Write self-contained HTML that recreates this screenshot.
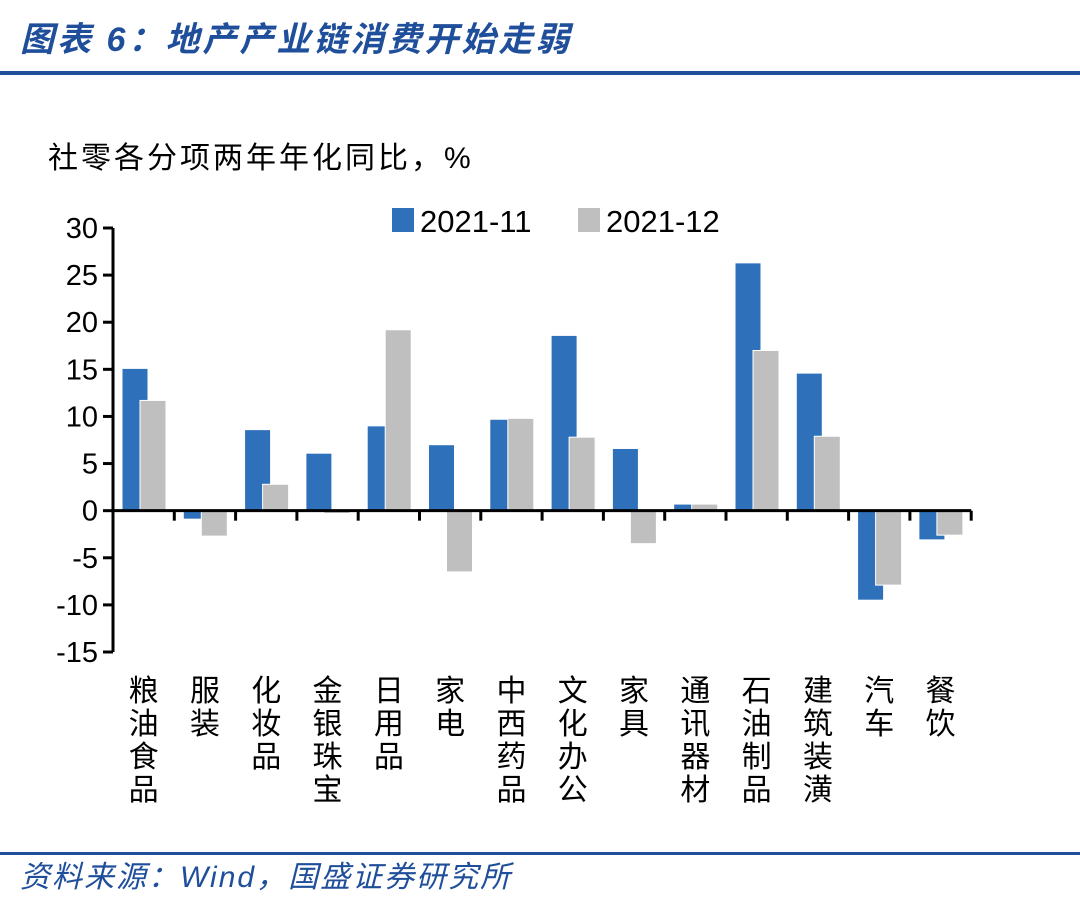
<!DOCTYPE html>
<html><head><meta charset="utf-8"><style>
body{margin:0;background:#fff;width:1080px;height:900px;overflow:hidden;font-family:"Liberation Sans","Noto Sans CJK SC",sans-serif}
</style></head><body>
<svg width="1080" height="900">
<text x="20" y="51" font-size="34" font-weight="bold" font-style="italic" fill="#1f4e9a" letter-spacing="3" font-family="Liberation Sans,Noto Sans CJK SC,sans-serif">图表 6：地产产业链消费开始走弱</text>
<rect x="0" y="71" width="1080" height="4" fill="#1f4e9a"/>
<text x="48" y="168" font-size="30" fill="#000" letter-spacing="3">社零各分项两年年化同比，%</text>
<g>
<rect x="392" y="208" width="22" height="24" fill="#2e70ba"/>
<text x="420" y="232" font-size="31">2021-11</text>
<rect x="578" y="208" width="22" height="24" fill="#bfbfbf"/>
<text x="606" y="232" font-size="31">2021-12</text>
</g>
<g id="plot"></g>
<rect x="0" y="852" width="1080" height="3" fill="#1f4e9a"/>
<text x="20" y="887" font-size="30" font-style="italic" fill="#1f4e9a" letter-spacing="2">资料来源：Wind，国盛证券研究所</text>
</svg>
<script>
const categories=["粮油食品","服装","化妆品","金银珠宝","日用品","家电","中西药品","文化办公","家具","通讯器材","石油制品","建筑装潢","汽车","餐饮"];
const nov=[15.1,-0.9,8.6,6.1,9.0,7.0,9.7,18.6,6.6,0.7,26.3,14.6,-9.5,-3.1];
const dec=[11.7,-2.7,2.8,-0.3,19.2,-6.5,9.8,7.8,-3.5,0.7,17.0,7.9,-7.9,-2.6];
const yTicks=[30,25,20,15,10,5,0,-5,-10,-15];
const NS="http://www.w3.org/2000/svg";
const g=document.getElementById('plot');
const x0=113,cw=61.3,yTop=228,yBot=652,yMax=30,yMin=-15;
function y(v){return yTop+(yMax-v)/(yMax-yMin)*(yBot-yTop);}
function cx(i){return x0+i*cw;}
function mk(t,a){const e=document.createElementNS(NS,t);for(const k in a)e.setAttribute(k,a[k]);g.appendChild(e);return e;}
function bar(v,x,color,name){const y1=Math.min(y(v),y(0)),h=Math.abs(y(v)-y(0));const r=mk('rect',{x:x,y:y1,width:26,height:Math.max(h,1),fill:color,stroke:'#fff','stroke-width':1});

}
categories.forEach((c,i)=>{
bar(nov[i],cx(i)+9,'#2e70ba','bar-2021-11-'+i);
bar(dec[i],cx(i)+27,'#bfbfbf','bar-2021-12-'+i);
const t=mk('text',{x:cx(i)+cw/2,y:701,'font-size':30,'text-anchor':'middle'});


[...c].forEach((ch,k)=>{const s=document.createElementNS(NS,'tspan');s.setAttribute('x',cx(i)+cw/2);s.setAttribute('y',701+k*33);s.textContent=ch;t.appendChild(s);});
});
const ax=mk('line',{x1:x0,y1:yTop,x2:x0,y2:yBot,stroke:'#000','stroke-width':3});


const xa=mk('line',{x1:x0,y1:y(0),x2:x0+14*cw,y2:y(0),stroke:'#000','stroke-width':3});


for(let i=0;i<=14;i++){mk('line',{x1:cx(i),y1:y(0),x2:cx(i),y2:y(0)+10,stroke:'#000','stroke-width':3});}
yTicks.forEach(v=>{mk('line',{x1:x0-10,y1:y(v),x2:x0,y2:y(v),stroke:'#000','stroke-width':3});
const t=mk('text',{x:98,y:y(v)+10,'font-size':29,'text-anchor':'end'});t.textContent=v;

});
</script>
</body></html>
